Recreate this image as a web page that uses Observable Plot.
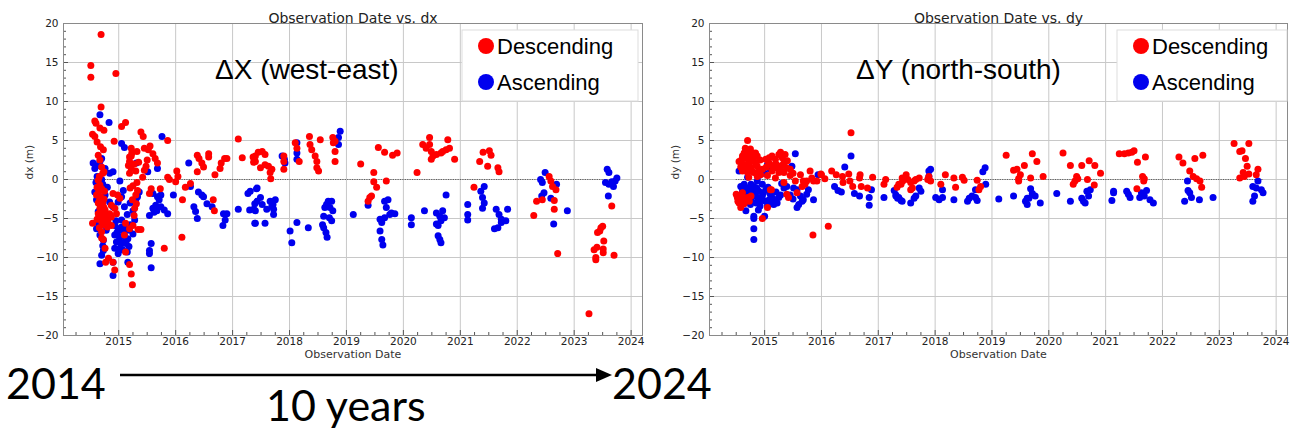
<!DOCTYPE html>
<html><head><meta charset="utf-8">
<script src="https://cdn.jsdelivr.net/npm/d3@7"></script>
<script src="https://cdn.jsdelivr.net/npm/@observablehq/plot@0.6"></script>
<style>
body{margin:0;background:#fff}
#wrap{position:relative;width:1291px;height:431px;overflow:hidden;background:#fff}
#wrap > svg{position:absolute;top:0}
</style>
</head><body><div id="wrap"></div>
<script>
// ---- data: [observation date (decimal year), displacement (m)] ----
const dxDescending = [
[2014.69,18.6],[2014.51,14.6],[2014.51,13.1],[2014.95,13.6],[2014.69,9.3],
[2014.58,7.5],[2014.6,7.2],[2014.54,5.8],[2014.58,5.5],[2014.67,6.6],[2014.74,6.3],
[2015.05,6.8],[2015.12,7.3],[2014.92,4.9],[2015.39,6.1],[2015.43,5.5],[2015.86,5.0],
[2015.55,4.3],[2015.52,3.8],[2015.22,4.0],[2015.23,3.4],[2015.32,3.6],[2014.68,4.2],[2014.73,3.8],
[2014.64,3.1],[2014.67,2.5],[2015.19,2.9],[2015.19,2.3],[2015.22,1.4],[2015.19,0.8],
[2015.64,2.7],[2015.68,2.1],[2015.45,1.2],[2015.42,0.3],[2015.86,0.3],[2015.89,0.0],
[2016.02,1.1],[2016.04,0.4],[2016.0,-0.3],
[2016.38,3.1],[2016.41,2.7],[2016.46,2.1],[2016.49,1.6],[2016.58,3.3],[2016.58,2.9],[2016.38,1.0],
[2016.69,0.6],[2016.78,1.4],[2016.8,2.1],[2016.86,2.7],[2016.9,2.7],
[2017.1,5.2],[2017.17,2.8],[2017.36,2.9],[2017.38,2.3],[2017.45,3.5],
[2015.73,-1.2],[2016.26,-0.5],[2016.17,-1.0],[2016.12,-2.6],[2016.66,-2.6],[2016.68,-4.0],[2016.11,-7.4],
[2015.8,-8.8],[2015.34,-6.4],[2015.39,-6.4],[2015.28,-3.7],[2015.31,-3.1],[2015.12,-5.6],[2015.1,-7.1],[2015.12,-9.3],
[2015.19,-10.9],[2015.22,-12.1],[2015.24,-13.5],[2014.9,-10.6],[2014.93,-11.6],[2014.77,-10.6],[2014.82,-10.1],[2014.54,-5.6],
[2014.64,-0.1],[2014.67,-0.7],[2014.7,-1.2],[2014.61,-2.0],[2014.68,-2.2],[2014.72,-3.1],[2014.67,-3.7],[2014.64,-4.4],
[2014.72,-4.4],[2014.78,-4.6],[2014.84,-4.4],[2014.87,-4.8],[2014.7,-5.4],[2014.76,-5.0],[2014.81,-5.4],[2014.87,-5.9],
[2014.7,-6.7],[2014.73,-7.7],[2014.76,-8.8],[2014.7,-7.5],
[2014.9,-1.8],[2014.98,-2.0],[2015.02,-2.4],[2014.87,-3.3],[2014.93,-3.7],[2014.96,-4.4],
[2015.57,-1.2],[2015.54,-1.8],[2015.19,-6.3],[2015.25,-5.9],
[2014.66,0.4],[2014.72,0.8],[2014.62,-1.0],[2014.75,-1.5],[2014.66,-2.7],[2014.74,-2.5],[2014.69,-3.3],[2014.76,-3.9],
[2014.62,-5.1],[2014.8,-6.1],
[2015.25,-0.8],[2015.3,-2.0],[2015.33,-1.4],[2015.2,-1.1],[2015.5,2.5],[2015.35,2.2],[2015.3,1.1],[2015.45,4.0],
[2014.62,4.8],[2014.7,1.6],[2014.74,1.0],[2014.65,-1.5],[2014.71,-2.9],[2014.64,-3.0],[2014.74,-3.6],[2014.68,-4.9],
[2014.73,-5.8],[2014.66,-6.2],[2015.22,3.0],[2015.27,2.0],[2015.17,1.8],[2015.32,-0.4],[2015.24,-2.6],[2015.27,-4.6],
[2015.6,3.3],[2015.48,1.7],
[2017.4,3.0],[2017.52,3.6],[2017.57,3.2],[2017.4,2.3],[2017.49,1.5],[2017.57,1.9],[2017.63,1.7],[2017.69,1.3],
[2017.66,0.9],[2017.67,0.1],[2017.37,2.2],
[2017.9,3.0],[2017.9,2.3],[2017.9,1.3],[2018.1,4.7],[2018.13,4.0],[2018.17,2.3],
[2018.35,5.5],[2018.36,4.5],[2018.39,3.8],[2018.45,3.0],[2018.48,2.3],[2018.48,1.5],[2018.51,1.1],[2018.54,5.1],
[2018.76,5.4],[2018.8,4.9],[2018.8,3.6],[2018.8,2.3],[2018.77,4.7],
[2019.25,2.0],[2019.48,0.9],[2019.48,-0.3],[2019.53,-1.0],[2019.7,-0.2],[2019.56,4.1],[2019.67,3.5],[2019.81,3.1],[2019.89,3.4],
[2019.38,-2.8],[2019.41,-2.3],[2019.44,-2.1],
[2020.24,0.9],[2020.34,4.5],[2020.46,5.4],[2020.46,4.5],[2020.49,3.6],[2020.52,3.0],[2020.49,2.6],[2020.58,3.2],
[2020.66,3.4],[2020.69,3.6],[2020.75,3.8],[2020.78,5.1],[2020.81,4.0],[2020.9,2.6],[2020.4,4.0],
[2021.24,-1.0],[2021.34,2.3],[2021.4,3.5],[2021.48,1.7],[2021.51,3.7],[2021.54,3.1],[2021.66,1.5],[2021.68,1.0],
[2022.29,-4.6],[2022.34,-2.8],[2022.44,-2.6],[2022.56,0.4],[2022.59,-0.2],[2022.62,-0.9],[2022.68,-1.3],[2022.65,-2.7],
[2022.65,-3.8],[2022.71,-9.5],
[2023.66,-3.4],[2023.26,-17.2],[2023.38,-10.0],[2023.38,-10.3],[2023.4,-8.7],[2023.51,-8.9],[2023.51,-9.4],[2023.52,-7.9],
[2023.45,-6.6],[2023.5,-6.0],[2023.41,-6.8],[2023.7,-9.7],[2023.47,-6.2],[2023.35,-9.0]
];
const dxAscending = [
[2014.67,8.3],[2014.83,7.3],[2015.76,5.5],[2015.05,4.6],[2015.1,4.1],
[2014.7,2.7],[2014.67,2.3],[2014.64,1.8],[2014.55,2.1],[2014.58,1.4],[2014.76,1.4],[2014.84,0.8],[2014.9,1.0],
[2015.02,-0.2],[2015.31,2.1],[2015.51,1.0],[2015.68,1.4],[2016.23,2.1],
[2014.58,-1.6],[2014.64,-2.0],[2014.61,-2.6],[2014.67,-3.1],[2014.76,-2.0],[2014.84,-2.9],[2014.9,-3.5],
[2015.08,-1.4],[2015.05,-2.2],[2014.99,-2.9],[2015.36,-1.6],[2015.33,-2.2],
[2015.6,-1.8],[2015.68,-2.2],[2015.74,-2.0],[2015.71,-2.6],[2015.65,-3.3],[2015.6,-3.7],[2015.54,-4.6],[2015.74,-3.5],
[2015.8,-3.9],[2015.86,-4.4],
[2015.96,-2.0],[2016.26,-0.9],[2016.4,-1.6],[2016.46,-2.0],[2016.49,-2.2],[2016.55,-3.1],[2016.64,-3.5],[2016.32,-3.5],
[2016.35,-4.1],[2016.38,-5.0],
[2016.84,-4.4],[2016.9,-4.4],[2016.87,-5.2],[2016.83,-5.9],[2017.1,-3.8],[2017.27,-1.8],[2017.3,-3.9],[2017.39,-3.1],
[2017.39,-5.6],[2017.42,-1.2],
[2014.93,-5.9],[2014.99,-6.3],[2015.05,-6.1],[2015.13,-6.3],[2015.19,-6.5],[2014.93,-7.1],[2015.02,-7.4],[2015.1,-7.1],
[2015.16,-7.6],[2014.96,-8.0],[2015.05,-8.2],[2015.13,-8.2],[2014.93,-8.8],[2015.02,-8.8],[2014.99,-9.5],
[2015.15,-9.3],[2015.16,-10.6],[2014.9,-12.3],[2014.67,-10.8],[2014.7,-9.7],[2014.73,-9.1],[2014.9,-10.6],
[2015.57,-8.2],[2015.54,-9.1],[2015.54,-9.5],[2015.57,-11.3],
[2014.67,-7.1],[2014.73,-7.8],[2014.61,-6.3],[2014.7,-5.0],[2014.76,-5.4],[2014.64,-4.1],
[2014.62,0.4],[2014.7,0.0],[2014.72,-0.6],[2014.68,-1.2],[2014.8,-1.0],
[2015.2,-3.0],[2015.25,-4.0],[2015.15,-4.5],[2015.28,-5.2],[2015.1,-3.5],
[2014.6,-0.4],[2014.66,-1.0],[2014.74,-2.5],[2014.69,-4.5],[2014.62,-5.5],[2014.78,-6.5],[2014.72,-8.5],[2014.97,-6.8],
[2015.08,-6.7],[2015.12,-7.8],[2015.0,-7.9],[2015.07,-9.0],[2015.18,-8.6],[2014.95,-5.3],[2015.05,-5.2],[2015.2,-5.8],
[2015.25,-7.0],[2015.3,-2.6],[2015.62,-4.2],[2015.67,-4.0],
[2017.31,-1.5],[2017.43,-1.1],[2017.43,-2.8],[2017.4,-4.0],[2017.37,-3.8],[2017.4,-5.6],[2017.57,-5.6],[2017.49,-2.3],
[2017.52,-3.2],[2017.6,-3.8],[2017.66,-2.8],[2017.69,-3.4],[2017.72,-3.8],[2017.75,-2.6],[2017.72,-4.5],[2017.71,-3.2],
[2017.87,3.0],[2017.91,2.6],[2017.92,2.1],[2018.13,4.7],[2018.13,3.4],[2018.13,2.6],[2018.86,5.4],[2018.89,6.2],[2018.86,4.5],
[2018.01,-6.6],[2018.04,-8.1],[2018.13,-5.5],[2018.33,-6.2],
[2018.6,-4.7],[2018.62,-3.6],[2018.65,-3.2],[2018.68,-2.8],[2018.71,-3.6],[2018.74,-2.8],[2018.76,-4.0],[2018.7,-4.9],
[2018.74,-5.3],[2018.58,-5.8],[2018.6,-6.2],[2018.64,-6.8],[2018.66,-7.4],
[2019.12,-4.5],[2019.38,-3.3],
[2019.67,-2.8],[2019.7,-3.6],[2019.73,-2.6],[2019.76,-4.5],[2019.79,-4.3],[2019.85,-4.4],[2019.59,-5.1],[2019.62,-5.5],
[2019.67,-4.9],[2019.59,-6.6],[2019.62,-7.7],[2019.64,-8.4],
[2020.14,-4.9],[2020.14,-5.8],
[2020.37,-4.0],[2020.58,-4.3],[2020.64,-4.7],[2020.66,-5.3],[2020.69,-4.0],[2020.75,-2.0],[2020.72,-4.9],[2020.58,-5.7],
[2020.61,-7.2],[2020.64,-7.7],[2020.66,-8.1],[2020.61,-5.9],
[2021.13,-3.2],[2021.13,-4.5],[2021.13,-5.2],
[2021.36,-1.5],[2021.42,-0.9],[2021.39,-2.3],[2021.42,-3.0],[2021.39,-3.7],
[2021.63,-3.8],[2021.68,-4.5],[2021.72,-5.1],[2021.72,-5.5],[2021.8,-5.3],[2021.83,-3.8],[2021.66,-6.2],[2021.6,-6.3],
[2022.49,0.9],[2022.41,0.0],[2022.44,-0.4],[2022.47,-1.7],[2022.43,-2.1],[2022.59,-2.4],[2022.64,-5.7],[2022.69,-0.6],
[2022.88,-4.0],
[2023.58,1.3],[2023.61,0.9],[2023.55,-0.4],[2023.61,-0.6],[2023.66,-0.3],[2023.72,-0.2],[2023.75,0.2],[2023.69,-0.9],
[2023.6,-2.1]
];
const dyDescending = [
[2014.7,5.0],
[2014.55,2.3],[2014.61,3.0],[2014.64,3.4],[2014.67,3.6],[2014.7,3.2],[2014.73,3.6],[2014.79,3.4],[2014.84,3.4],
[2014.87,3.0],[2014.65,1.9],[2014.73,2.1],[2014.81,2.3],[2014.87,1.7],[2014.76,1.5],[2014.61,1.1],[2014.7,0.9],
[2014.81,0.9],[2014.9,1.1],[2014.93,0.6],[2014.96,1.3],[2014.87,0.4],[2014.64,1.9],[2014.68,2.7],[2014.76,2.8],
[2014.58,1.6],[2014.72,0.3],[2014.66,4.0],
[2014.6,2.6],[2014.75,3.9],[2014.8,2.6],[2014.85,2.0],[2014.69,1.3],[2014.78,1.1],[2014.92,2.5],
[2015.02,2.6],[2015.08,2.8],[2015.13,3.0],[2015.19,2.6],[2015.25,3.2],[2015.28,3.5],[2015.31,2.8],[2015.1,1.9],
[2015.16,1.7],[2015.22,1.5],[2015.28,1.3],[2015.34,2.1],[2015.39,1.5],[2015.45,1.3],[2015.13,1.1],[2015.25,0.9],
[2015.34,0.9],[2015.19,0.2],[2015.1,-1.3],[2015.05,0.5],[2015.4,2.4],
[2015.03,1.6],[2015.07,2.2],[2015.2,2.0],[2015.3,1.8],[2015.36,3.2],[2015.45,0.5],[2015.5,0.8],
[2014.5,-1.9],[2014.52,-2.3],[2014.58,-2.6],[2014.55,-3.0],[2014.58,-3.6],[2014.7,-2.3],[2014.73,-2.8],[2014.67,-2.6],
[2014.61,-1.7],[2014.53,-2.8],[2014.6,-2.1],[2014.64,-3.1],[2014.76,-2.1],
[2014.96,-5.0],[2015.05,-3.6],[2015.12,-1.3],
[2015.34,-0.4],[2015.39,-1.9],[2015.42,-2.3],[2015.54,-0.2],[2015.57,-1.7],
[2015.63,0.6],[2015.68,-0.2],[2015.74,-0.2],[2015.8,1.1],[2015.83,0.2],[2015.86,-0.2],[2015.92,-0.2],[2016.0,0.6],
[2015.66,-0.9],[2015.71,-0.6],
[2015.85,-7.1],[2016.12,-6.0],
[2016.18,1.1],[2016.26,0.6],[2016.37,0.4],[2016.48,0.7],[2016.5,-0.2],[2016.55,-0.9],[2016.68,0.6],[2016.7,-0.9],
[2016.81,-1.1],[2016.9,0.3],[2016.67,0.2],[2016.38,-0.4],
[2016.52,6.0],
[2017.13,0.0],[2017.1,-0.6],[2017.33,-1.0],[2017.36,-0.6],[2017.42,0.2],
[2015.99,0.7],[2016.06,0.1],
[2017.4,-0.6],[2017.43,-0.2],[2017.49,0.6],[2017.52,0.0],[2017.57,-0.4],[2017.6,-1.1],[2017.63,-0.2],[2017.66,0.0],
[2017.72,0.2],[2017.57,-1.3],[2017.89,0.4],[2017.92,-0.2],[2017.87,0.0],[2017.46,0.1],
[2018.1,-0.6],[2018.18,0.6],[2018.33,0.2],[2018.36,-1.0],[2018.48,0.3],[2018.51,-0.1],[2018.74,-0.1],[2018.8,-0.9],
[2018.77,-1.3],
[2019.25,3.1],[2019.38,1.2],[2019.44,1.3],[2019.47,0.1],[2019.5,0.6],[2019.57,1.8],[2019.68,0.2],[2019.71,3.3],
[2019.79,2.3],[2019.9,0.4],[2019.47,-0.2],
[2020.25,3.4],[2020.38,1.8],[2020.49,0.4],[2020.46,-0.2],[2020.43,-0.6],[2020.58,1.8],[2020.68,0.0],[2020.71,2.4],
[2020.81,1.8],[2020.8,-0.7],[2020.91,0.8],[2020.51,0.1],
[2021.24,3.3],[2021.33,3.3],[2021.4,3.4],[2021.46,3.5],[2021.5,3.7],[2021.56,2.2],[2021.7,2.9],[2021.55,-1.2],
[2021.65,0.4],[2021.67,-0.2],[2021.68,0.1],
[2022.29,2.9],[2022.36,2.1],[2022.48,1.1],[2022.57,2.7],[2022.71,3.1],[2022.54,0.4],[2022.6,0.1],[2022.66,-0.2],
[2022.69,-1.0],
[2023.26,4.6],[2023.36,3.6],[2023.4,3.7],[2023.46,2.7],[2023.52,4.6],[2023.49,1.7],[2023.42,0.9],[2023.36,0.2],
[2023.52,0.7],[2023.68,1.3],[2023.65,0.6],[2023.44,0.4]
];
const dyAscending = [
[2014.55,1.1],[2015.54,3.3],[2015.05,1.9],[2015.1,1.3],[2015.16,1.5],[2015.48,1.7],
[2014.58,-0.9],[2014.64,-0.6],[2014.7,-1.1],[2014.76,-0.6],[2014.81,-0.9],[2014.61,-1.5],[2014.67,-1.7],[2014.73,-1.5],
[2014.79,-1.9],[2014.84,-1.7],[2014.9,-1.5],[2014.64,-2.3],[2014.76,-2.6],[2014.87,-2.3],[2014.96,-2.1],[2015.02,-2.8],
[2015.08,-2.6],[2015.13,-2.3],[2015.19,-2.6],[2015.22,-3.0],[2015.25,-2.3],[2015.16,-3.2],[2014.87,-0.2],[2014.96,-0.6],
[2015.02,-1.3],[2015.1,-1.9],[2015.34,-1.1],[2015.39,-0.9],[2014.67,-4.0],[2014.89,-3.9],[2014.81,-4.7],[2014.81,-5.0],
[2014.81,-6.3],[2014.81,-7.7],[2015.0,-4.7],
[2014.7,0.3],[2014.9,0.5],[2015.0,0.8],[2014.75,-3.2],[2015.05,-3.4],[2014.95,1.2],
[2014.62,-1.2],[2014.68,-2.8],[2014.72,-2.2],[2014.78,-1.3],[2014.86,-1.1],[2014.92,-2.8],[2014.98,-1.7],[2015.06,-1.0],
[2015.12,-3.0],[2015.2,-1.6],[2015.28,-2.0],[2015.3,-0.5],[2014.92,-3.4],[2014.85,-3.0],[2015.45,-2.0],[2015.5,-2.5],
[2015.51,-1.1],[2015.57,-1.3],[2015.63,-2.1],[2015.66,-2.8],[2015.68,-2.6],[2015.57,-3.6],[2015.6,-3.2],[2015.86,-2.6],
[2015.77,-1.3],[2015.74,-1.9],[2015.94,0.6],
[2016.23,-0.9],[2016.29,-1.4],[2016.35,-1.6],[2016.41,1.6],[2016.52,3.0],[2016.58,-1.8],[2016.67,-2.1],[2016.84,-2.3],
[2016.84,-3.3],[2016.88,-1.3],
[2017.1,-2.3],[2017.28,-1.4],[2017.31,-2.1],[2017.36,-2.3],[2017.42,-2.8],
[2017.34,-2.4],[2017.4,-2.7],[2017.57,-3.0],[2017.63,-2.4],[2017.66,-2.1],[2017.72,-1.1],[2017.75,-1.5],[2017.89,1.1],
[2017.92,1.3],[2017.89,0.4],[2017.31,-2.0],
[2018.01,-2.3],[2018.07,-2.6],[2018.13,-2.3],[2018.13,-1.3],[2018.33,-2.6],[2018.57,-2.8],[2018.6,-2.4],[2018.65,-2.1],
[2018.71,-2.3],[2018.74,-2.7],[2018.71,-1.3],[2018.84,1.0],[2018.88,1.5],[2018.89,-0.6],
[2019.12,-2.5],[2019.38,-2.1],[2019.59,-2.8],[2019.62,-3.2],[2019.65,-2.4],[2019.68,-1.2],[2019.71,-1.8],[2019.76,-2.1],
[2019.85,-3.0],[2019.62,-2.4],
[2020.14,-1.8],[2020.38,-2.8],[2020.58,-2.4],[2020.61,-2.8],[2020.64,-3.0],[2020.67,-1.5],[2020.73,-1.3],[2020.7,-2.1],
[2021.11,-2.7],[2021.14,-1.7],[2021.14,-1.5],[2021.37,-1.5],[2021.4,-1.9],[2021.43,-2.3],[2021.6,-2.3],[2021.63,-1.7],
[2021.68,-2.1],[2021.72,-1.4],[2021.78,-2.6],[2021.84,-3.0],
[2022.39,-2.8],[2022.45,-1.4],[2022.48,-1.7],[2022.51,-2.3],[2022.44,-0.2],[2022.65,-2.6],[2022.89,-2.3],
[2023.59,-0.9],[2023.65,-1.1],[2023.68,-0.2],[2023.74,-1.3],[2023.77,-1.7],[2023.62,-2.1],[2023.59,-2.8]
];
const yearTicks = [2015,2016,2017,2018,2019,2020,2021,2022,2023,2024];
const valueTicks = [-20,-15,-10,-5,0,5,10,15,20];
const xDomain = [2014.03, 2024.2];
const seriesNames = ["Descending","Ascending"];
const seriesColors = ["#ff0000","#0000ee"];
const panelTitles = ["Observation Date vs. dx","Observation Date vs. dy"];
const panelYLabels = ["dx (m)","dy (m)"];
const panelAnnotations = ["ΔX (west-east)","ΔY (north-south)"];
const timeSpanLabels = ["2014","2024","10 years"];

const H = 365, MT = 23, MB = 30, ML = 63;
const minorX = d3.range(2014.25, 2024.2, 0.25).filter(v => Math.abs(v - Math.round(v)) > 0.01);
const minorY = d3.range(-19, 20, 1).filter(v => v % 5 !== 0);

function panel(desc, asc, title, ylabel, width, mr) {
  const fw = width - ML - mr, fh = H - MT - MB;
  const dates = desc.concat(asc).map(d => d[0]);
  return Plot.plot({
    width, height: H, marginLeft: ML, marginRight: mr, marginTop: MT, marginBottom: MB,
    style: {fontFamily: "DejaVu Sans", fontSize: "10.5px", color: "#222", background: "white", overflow: "visible"},
    x: {domain: xDomain, ticks: yearTicks, tickFormat: d => String(d), tickSize: 0, tickPadding: 2, label: null},
    y: {domain: [-20, 20], ticks: valueTicks, tickSize: 0, tickPadding: 5, label: null},
    marks: [
      Plot.gridX(yearTicks, {stroke: "#c8c8c8", strokeOpacity: 1}),
      Plot.gridY(valueTicks, {stroke: "#c8c8c8", strokeOpacity: 1}),
      Plot.tickX(minorX, {x: d => d, insetTop: fh - 3, stroke: "#555"}),
      Plot.tickX(yearTicks, {x: d => d, insetTop: fh - 5, stroke: "#555"}),
      Plot.tickY(minorY, {y: d => d, insetRight: fw - 3, stroke: "#555"}),
      Plot.tickY(valueTicks, {y: d => d, insetRight: fw - 5, stroke: "#555"}),
      Plot.frame({stroke: "#8a8a8a"}),
      Plot.ruleY([0], {x1: d3.min(dates), x2: d3.max(dates), stroke: "#444", strokeWidth: 0.8, strokeDasharray: "1.2,1.2"}),
      Plot.dot(asc, {x: d => d[0], y: d => d[1], r: 3.5, fill: seriesColors[1], stroke: "none"}),
      Plot.dot(desc, {x: d => d[0], y: d => d[1], r: 3.5, fill: seriesColors[0], stroke: "none"}),
      Plot.text([title], {frameAnchor: "top", dy: -10, fontSize: 14, fill: "#222"}),
      Plot.text(["Observation Date"], {frameAnchor: "bottom", dy: 22, fontSize: 11, fill: "#333"}),
      Plot.text([ylabel], {frameAnchor: "left", rotate: -90, dx: -34, fontSize: 10.5, fill: "#333"})
    ]
  });
}

const wrap = document.getElementById("wrap");
const left = panel(dxDescending, dxAscending, panelTitles[0], panelYLabels[0], 646, 4);
left.style.left = "0px";
const right = panel(dyDescending, dyAscending, panelTitles[1], panelYLabels[1], 645, 4);
right.style.left = "646px";
wrap.append(left, right);

// overlay: legends, panel annotations, time-span arrow
const ov = d3.create("svg").attr("width", 1291).attr("height", 431)
  .style("position", "absolute").style("left", "0px").style("top", "0px");
const legendPos = [{x: 462, w: 176}, {x: 1117, w: 170}];
legendPos.forEach(p => {
  const g = ov.append("g");
  g.append("rect").attr("x", p.x).attr("y", 30).attr("width", p.w).attr("height", 71)
    .attr("fill", "white").attr("stroke", "#ddd");
  seriesNames.forEach((name, i) => {
    const cy = 46 + i * 36;
    g.append("circle").attr("cx", p.x + 24).attr("cy", cy).attr("r", 8).attr("fill", seriesColors[i]);
    g.append("text").attr("x", p.x + 35).attr("y", cy + 8).text(name)
      .attr("font-family", "Liberation Sans, Arial, sans-serif").attr("font-size", 22).attr("fill", "#000");
  });
});
[[215, panelAnnotations[0]], [856, panelAnnotations[1]]].forEach(([x, t]) => {
  ov.append("text").attr("x", x).attr("y", 79).text(t)
    .attr("font-family", "Liberation Sans, Arial, sans-serif").attr("font-size", 28).attr("fill", "#000");
});
const big = "Lato, 'Open Sans', sans-serif";
ov.append("text").attr("x", 6).attr("y", 399).text(timeSpanLabels[0]).attr("font-family", big).attr("font-size", 43).attr("fill", "#000");
ov.append("text").attr("x", 612).attr("y", 399).text(timeSpanLabels[1]).attr("font-family", big).attr("font-size", 43).attr("fill", "#000");
ov.append("text").attr("x", 266).attr("y", 421).text(timeSpanLabels[2]).attr("font-family", big).attr("font-size", 43).attr("fill", "#000");
ov.append("line").attr("x1", 120).attr("y1", 375).attr("x2", 600).attr("y2", 375).attr("stroke", "#000").attr("stroke-width", 2.5);
ov.append("path").attr("d", "M596,368 L612,375 L596,382 Z").attr("fill", "#000");
wrap.append(ov.node());
</script>
</body></html>
